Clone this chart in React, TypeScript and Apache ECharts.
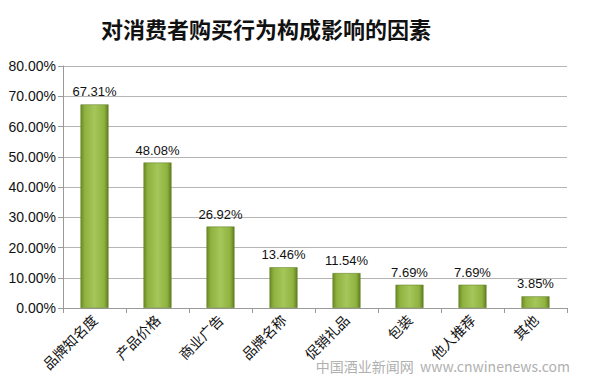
import React, { useEffect, useRef } from "react";
import * as echarts from "echarts";

const categories = ["品牌知名度", "产品价格", "商业广告", "品牌名称", "促销礼品", "包装", "他人推荐", "其他"];
const values = [67.31, 48.08, 26.92, 13.46, 11.54, 7.69, 7.69, 3.85];
const titleText = "对消费者购买行为构成影响的因素";
const watermarkText = "中国酒业新闻网  www.cnwinenews.com";

export default function App() {
  const ref = useRef<HTMLDivElement>(null);
  useEffect(() => {
    const chart = echarts.init(ref.current!, null, { renderer: "svg" });
    chart.setOption({
      animation: false,
      backgroundColor: "#ffffff",
      title: {
        text: titleText,
        left: 261,
        textAlign: "center",
        top: 12,
        textStyle: {
          fontFamily: "Noto Sans CJK SC",
          fontSize: 22,
          fontWeight: "bold",
          color: "#111",
        },
      },
      graphic: [
        {
          type: "text",
          right: 30,
          top: 359,
          style: {
            text: watermarkText,
            fill: "#b0b0b0",
            font: "14px 'Noto Sans CJK SC'",
          },
        },
      ],
      grid: { left: 63, right: 33, top: 66, bottom: 77, containLabel: false },
      xAxis: {
        type: "category",
        data: categories,
        axisLine: { lineStyle: { color: "#9a9a9a" } },
        axisTick: { show: true, length: 5, alignWithLabel: false, lineStyle: { color: "#9a9a9a" } },
        axisLabel: {
          rotate: 45,
          margin: 9,
          fontFamily: "Noto Sans CJK SC",
          fontSize: 14,
          color: "#111",
        },
      },
      yAxis: {
        type: "value",
        min: 0,
        max: 80,
        interval: 10,
        axisLine: { show: true, lineStyle: { color: "#9a9a9a" } },
        axisTick: { show: true, length: 5, inside: false, lineStyle: { color: "#9a9a9a" } },
        splitLine: { lineStyle: { color: "#b5b5b5" } },
        axisLabel: {
          formatter: (v: number) => v.toFixed(2) + "%",
          fontFamily: "Liberation Sans",
          fontSize: 14,
          color: "#111",
          margin: 7,
        },
      },
      series: [
        {
          type: "bar",
          data: values,
          barWidth: 28,
          itemStyle: {
            color: new echarts.graphic.LinearGradient(0, 0, 1, 0, [
              { offset: 0, color: "#6a8a26" },
              { offset: 0.15, color: "#8fb23f" },
              { offset: 0.5, color: "#a5c65a" },
              { offset: 0.85, color: "#8fb23f" },
              { offset: 1, color: "#5f7d20" },
            ]),
            borderColor: "#5d7a22",
            borderWidth: 0.5,
          },
          label: {
            show: true,
            position: "top",
            distance: 6,
            formatter: (p: any) => p.value.toFixed(2) + "%",
            fontFamily: "Liberation Sans",
            fontSize: 13,
            color: "#111",
          },
        },
      ],
    });
    return () => chart.dispose();
  }, []);
  return (
    <div
      ref={ref}
      style={{ position: "fixed", left: 0, top: 0, width: 600, height: 385 }}
    />
  );
}
